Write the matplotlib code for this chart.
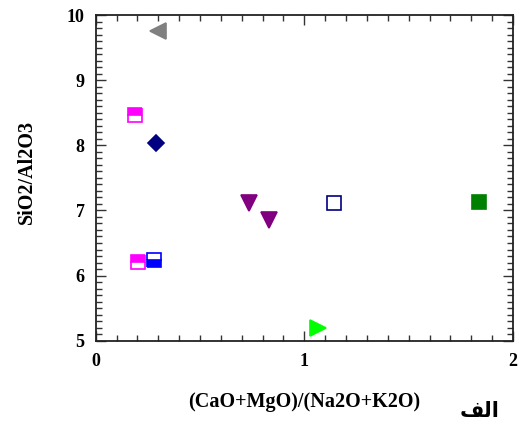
import matplotlib
matplotlib.use("Agg")
import matplotlib.pyplot as plt
from matplotlib.ticker import MultipleLocator

# Sample ratios: (CaO+MgO)/(Na2O+K2O) vs SiO2/Al2O3
x_vals = [0.30, 0.187, 0.29, 0.202, 0.28, 0.737, 0.83, 1.064, 1.14, 1.839]
y_vals = [9.76, 8.47, 8.04, 6.21, 6.24, 7.11, 6.86, 5.20, 7.11, 7.13]
markers = ["<", "s", "D", "s", "s", "v", "v", ">", "s", "s"]
face_colors = ["#808080", "#ff00ff", "#000080", "#ff00ff", "#0000ff",
               "#800080", "#800080", "#00ff00", "white", "#008000"]
edge_colors = ["#808080", "#ff00ff", "#000080", "#ff00ff", "#0000ff",
               "#800080", "#800080", "#00ff00", "#000080", "#008000"]
fill_styles = ["full", "top", "full", "top", "bottom",
               "full", "full", "full", "full", "full"]
sizes = [11, 9.5, 8, 9.5, 9.5, 11, 11, 11, 9.5, 9.5]

x_label = "(CaO+MgO)/(Na2O+K2O)"
y_label = "SiO2/Al2O3"
panel_label = "\uFED2\uFEDF\uFE8D"  # الف (shaped glyphs)

fig = plt.figure(figsize=(5.26, 4.26), dpi=100)
ax = fig.add_axes([95.7 / 526, 1 - 340.7 / 426, (513 - 95.7) / 526, (340.7 - 15) / 426])

for x, y, m, fc, ec, fs, ms in zip(x_vals, y_vals, markers, face_colors,
                                    edge_colors, fill_styles, sizes):
    ax.plot([x], [y], linestyle="none", marker=m, markersize=ms,
            markerfacecolor=fc, markeredgecolor=ec, fillstyle=fs,
            markerfacecoloralt="white", markeredgewidth=1.2)

ax.set_xlim(0, 2)
ax.set_ylim(5, 10)
ax.xaxis.set_major_locator(MultipleLocator(1))
ax.xaxis.set_minor_locator(MultipleLocator(0.1))
ax.yaxis.set_major_locator(MultipleLocator(1))
ax.yaxis.set_minor_locator(MultipleLocator(0.1))
ax.tick_params(which="both", direction="in", top=True, right=True,
               color="#333333", width=1)
ax.tick_params(which="major", length=7, labelsize=13)
ax.tick_params(axis="x", which="major", pad=9)
ax.tick_params(axis="y", which="major", pad=8)
ax.tick_params(which="minor", length=4)
for sp in ax.spines.values():
    sp.set_linewidth(1.3)
    sp.set_color("#222222")

for lbl in ax.get_xticklabels() + ax.get_yticklabels():
    lbl.set_fontfamily("Liberation Serif")
    lbl.set_fontweight("bold")

fig.text(304 / 526, 1 - 402 / 426, x_label, ha="center", va="center",
         fontsize=14.5, fontweight="bold", family="Liberation Serif")
fig.text(27 / 526, 1 - 172 / 426, y_label, ha="center", va="center",
         rotation=90, fontsize=14.5, fontweight="bold", family="Liberation Serif")
fig.text(480 / 526, 1 - 411 / 426, panel_label, ha="center", va="center",
         fontsize=15, fontweight="bold", family="DejaVu Sans")

fig.savefig("out.png", dpi=100)
